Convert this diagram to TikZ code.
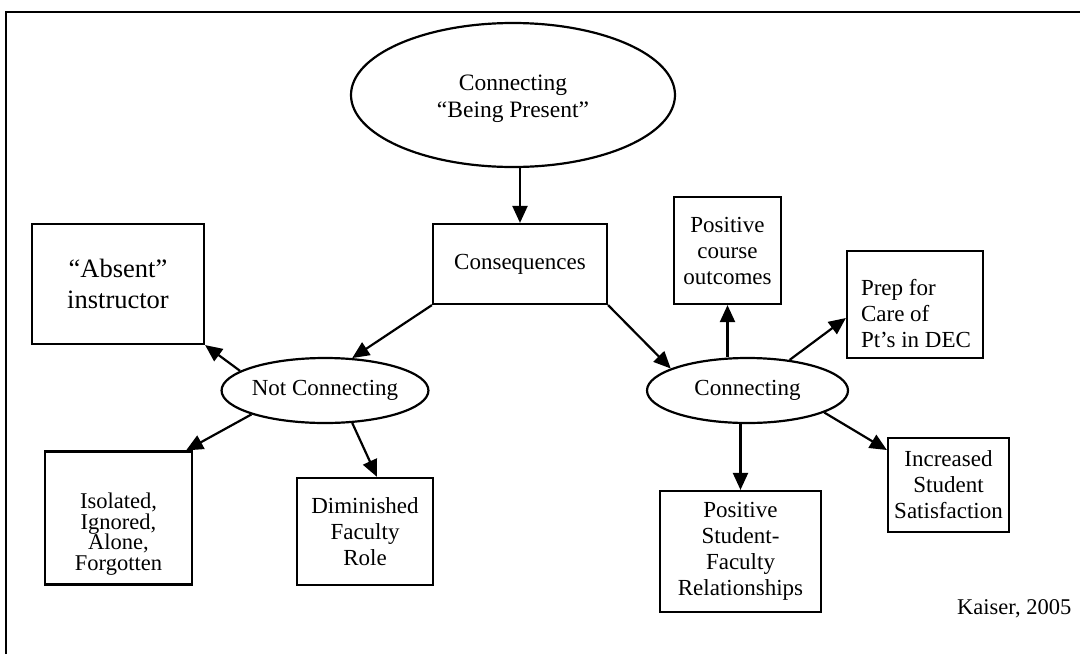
\documentclass[tikz,border=0pt]{standalone}
\usepackage{fontspec}
\setmainfont{Liberation Serif}
\usetikzlibrary{shapes.geometric,arrows.meta,calc}

\begin{document}
\begin{tikzpicture}[x=1pt,y=-1pt,
  every node/.style={font=\fontsize{23}{26}\selectfont, align=center, inner sep=0pt},
  box/.style={draw, line width=2.2pt, rectangle},
  oval/.style={draw, line width=2.2pt, ellipse},
  arr/.style={line width=2.2pt, -{Triangle[length=17pt,width=15pt]}},
]
\useasboundingbox (0,0) rectangle (1080,654);

% page frame (top and left edges)
\draw[line width=2.2pt] (6,654) -- (6,12) -- (1080,12);

% central concept
\node[oval, minimum width=324pt, minimum height=144pt] (top) at (513,95) {};
\node[font=\fontsize{23.5}{27}\selectfont] (toptext) at (513,99)
      {Connecting\\“Being Present”};
\node[box, minimum width=174pt, minimum height=80pt] (cons) at (520,264) {Consequences};

% not connecting branch
\node[oval, minimum width=188pt, minimum height=65pt] (notc) at (325,390.5) {Not Connecting};
\node[box, minimum width=172pt, minimum height=120pt,
      font=\fontsize{26.5}{31}\selectfont] (absent) at (118,284) {“Absent”\\instructor};
\node[box, minimum width=147pt, minimum height=133pt] (iso) at (118.5,518) {};
\node[font=\fontsize{22.5}{20.5}\selectfont] (isotext) at (118.5,534)
      {Isolated,\\Ignored,\\Alone,\\Forgotten};
\node[box, minimum width=136pt, minimum height=107pt] (dim) at (365,531.5)
      {Diminished\\Faculty\\Role};

% connecting branch
\node[oval, minimum width=201pt, minimum height=65pt] (conn) at (747.5,390.5) {Connecting};
\node[box, minimum width=107pt, minimum height=107pt] (pco) at (727.5,250.5)
      {Positive\\course\\outcomes};
\node[box, minimum width=136pt, minimum height=107pt] (prep) at (915,304.5) {};
\node[align=left] (preptext) at (916,314) {Prep for\\Care of\\Pt’s in DEC};
\node[box, minimum width=161pt, minimum height=121pt] (psf) at (740.5,551.5)
      {Positive\\Student-\\Faculty\\Relationships};
\node[box, minimum width=121pt, minimum height=94pt] (iss) at (948.5,485)
      {Increased\\Student\\Satisfaction};

% citation
\node[anchor=base west, font=\fontsize{22.5}{26}\selectfont] (cite) at (957,614) {Kaiser, 2005};

% connectors
\draw[arr] (cons.north |- top.south) -- (cons.north);
\draw[arr] (cons.south west) -- (notc.50);
\draw[arr] (cons.south east) -- (conn.164);
\draw[arr] (notc.167) -- (absent.south east);
\draw[arr] (notc.198) -- ($(iso.north east)+(-7,0)$);
\draw[arr] (notc.-50) -- ($(dim.north)+(12,0)$);
\draw[arr] (pco.south |- conn.north) -- (pco.south);
\draw[arr] (conn.36) -- ($(prep.west)+(0,13.5)$);
\draw[arr] (psf.north |- conn.south) -- (psf.north);
\draw[arr] (conn.-16) -- ($(iss.west)+(0,-35)$);
\end{tikzpicture}
\end{document}
